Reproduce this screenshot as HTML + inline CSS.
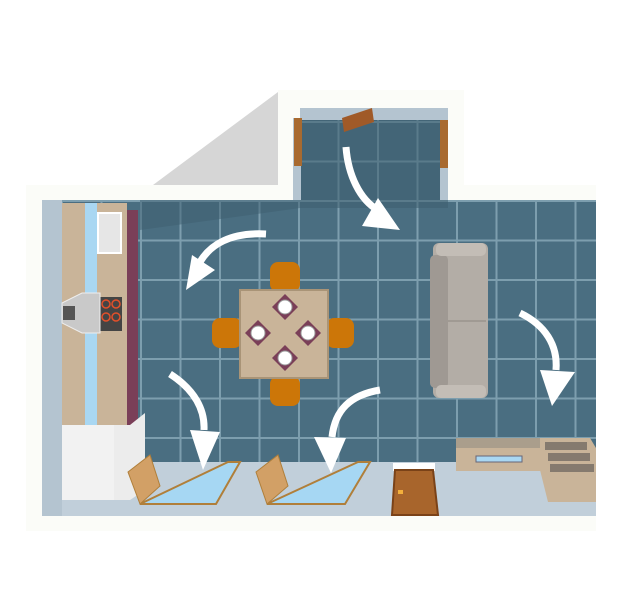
<!DOCTYPE html>
<html><head><style>html,body{margin:0;padding:0;background:#fff;}svg{display:block}</style></head>
<body>
<svg width="621" height="597" viewBox="0 0 621 597" xmlns="http://www.w3.org/2000/svg">
<defs>
<pattern id="tile" x="140" y="200" width="39.5" height="39.5" patternUnits="userSpaceOnUse">
<rect width="39.5" height="39.5" fill="#4a6e81"/>
<rect width="39.5" height="2" fill="#7d9eae"/><rect width="2" height="39.5" fill="#7d9eae"/>
</pattern>
</defs>
<!-- outer walls -->
<rect x="26" y="185" width="570" height="346" fill="#fbfcf8"/>
<rect x="278" y="90" width="186" height="110" fill="#fbfcf8"/>
<polygon points="153,185 278,92 278,185" fill="#d6d6d6"/>
<!-- floor -->
<rect x="62" y="200" width="534" height="265" fill="url(#tile)"/>
<rect x="300" y="118" width="148" height="90" fill="url(#tile)"/>
<rect x="300" y="118" width="148" height="90" fill="#3e5e70" opacity="0.55"/>
<polygon points="140,200 300,200 300,208 140,230" fill="#3e5e70" opacity="0.5"/>
<rect x="300" y="108" width="148" height="12" fill="#b4c4d0"/>
<rect x="293" y="118" width="8" height="82" fill="#b4c4d0"/>
<rect x="440" y="118" width="8" height="82" fill="#b4c4d0"/>
<rect x="294" y="118" width="8" height="48" fill="#a86a30"/>
<rect x="440" y="120" width="8" height="48" fill="#a86a30"/>
<polygon points="342,118 372,108 374,122 344,132" fill="#a05a28"/>
<!-- left inner wall & bottom strip -->
<rect x="42" y="200" width="20" height="316" fill="#b4c4d0"/>
<rect x="62" y="462" width="534" height="54" fill="#c1cfda"/>
<!-- kitchen -->
<rect x="62" y="203" width="65" height="235" fill="#c9b499"/>
<rect x="85" y="203" width="12" height="232" fill="#a9d7f2"/>
<rect x="127" y="210" width="11" height="225" fill="#7a3f58"/>
<rect x="98" y="213" width="23" height="40" fill="#e6e6e6" stroke="#fff" stroke-width="2"/>
<rect x="100" y="297" width="22" height="34" fill="#444"/>
<circle cx="106" cy="304" r="4" fill="none" stroke="#e2502a" stroke-width="1.5"/>
<circle cx="116" cy="304" r="4" fill="none" stroke="#e2502a" stroke-width="1.5"/>
<circle cx="106" cy="317" r="4" fill="none" stroke="#e2502a" stroke-width="1.5"/>
<circle cx="116" cy="317" r="4" fill="none" stroke="#e2502a" stroke-width="1.5"/>
<polygon points="62,303 82,293 100,293 100,333 82,333 62,323" fill="#c9c9c9" stroke="#eee"/>
<rect x="63" y="306" width="12" height="14" fill="#555"/>
<polygon points="62,425 130,425 145,413 145,490 130,500 62,500" fill="#ececec"/>
<rect x="62" y="425" width="52" height="75" fill="#f2f2f2"/>
<!-- windows -->
<polygon points="140,504 216,504 240,462 228,462" fill="#a6d7f3" stroke="#b07f3a" stroke-width="2"/>
<polygon points="128,472 150,455 160,486 140,504" fill="#d2a066" stroke="#b07f3a"/>
<polygon points="267,504 345,504 370,462 358,462" fill="#a6d7f3" stroke="#b07f3a" stroke-width="2"/>
<polygon points="256,472 278,455 288,486 267,504" fill="#d2a066" stroke="#b07f3a"/>
<!-- bottom door -->
<rect x="393" y="463" width="42" height="8" fill="#fff"/>
<polygon points="395,470 433,470 438,515 392,515" fill="#a8652c" stroke="#7a4218" stroke-width="2"/>
<rect x="398" y="490" width="5" height="4" fill="#f4b03c"/>
<!-- desk / shelves -->
<rect x="456" y="438" width="86" height="33" fill="#c9b499"/>
<rect x="456" y="438" width="86" height="10" fill="#aa9e8c"/>
<rect x="476" y="456" width="46" height="6" fill="#a9d7f2" stroke="#667"/>
<polygon points="540,438 590,438 596,448 596,502 548,502 540,470" fill="#c9b499"/>
<rect x="545" y="442" width="42" height="8" fill="#857a6e"/>
<rect x="548" y="453" width="42" height="8" fill="#857a6e"/>
<rect x="550" y="464" width="44" height="8" fill="#857a6e"/>
<!-- sofa -->
<rect x="433" y="243" width="55" height="155" rx="6" fill="#b3ada6"/>
<rect x="430" y="255" width="18" height="133" rx="5" fill="#9f9993"/>
<rect x="436" y="243" width="50" height="13" rx="5" fill="#c3bdb6"/>
<rect x="436" y="385" width="50" height="13" rx="5" fill="#c3bdb6"/>
<line x1="448" y1="321" x2="486" y2="321" stroke="#8c8680"/>
<!-- table & chairs -->
<rect x="270" y="262" width="30" height="30" rx="8" fill="#cc7608"/>
<rect x="270" y="376" width="30" height="30" rx="8" fill="#cc7608"/>
<rect x="212" y="318" width="30" height="30" rx="8" fill="#cc7608"/>
<rect x="326" y="318" width="28" height="30" rx="8" fill="#cc7608"/>
<rect x="240" y="290" width="88" height="88" fill="#c9b499" stroke="#a99477" stroke-width="2"/>
<g fill="#7a3f58">
<polygon points="285,294 298,307 285,320 272,307"/>
<polygon points="285,345 298,358 285,371 272,358"/>
<polygon points="258,320 271,333 258,346 245,333"/>
<polygon points="308,320 321,333 308,346 295,333"/>
</g>
<g fill="#fff" stroke="#999">
<circle cx="285" cy="307" r="7"/><circle cx="285" cy="358" r="7"/>
<circle cx="258" cy="333" r="7"/><circle cx="308" cy="333" r="7"/>
</g>
<!-- arrows -->
<g fill="none" stroke="#fff" stroke-width="7">
<path d="M266,234 C230,232 210,245 200,262"/>
<path d="M346,147 C348,175 360,200 378,210"/>
<path d="M170,374 C195,390 205,410 204,430"/>
<path d="M380,390 C350,395 335,410 332,437"/>
<path d="M520,313 C545,325 558,345 556,370"/>
</g>
<g fill="#fff">
<polygon points="186,290 192,255 215,270"/>
<polygon points="400,230 362,226 378,198"/>
<polygon points="203,470 190,430 220,432"/>
<polygon points="331,473 314,437 346,438"/>
<polygon points="552,406 540,370 575,372"/>
</g>
</svg>
</body></html>
